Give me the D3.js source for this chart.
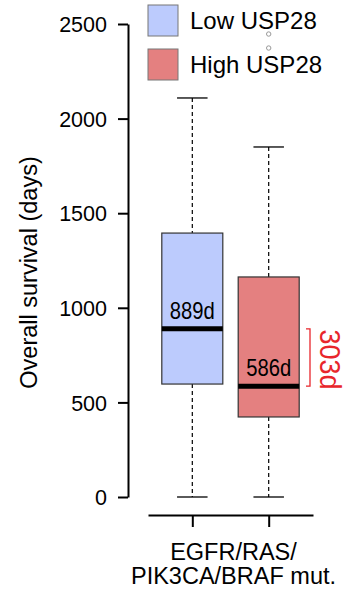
<!DOCTYPE html>
<html>
<head>
<meta charset="utf-8">
<script src="https://cdn.jsdelivr.net/npm/d3@7"></script>
<style>
  body { margin: 0; background: #fff; }
  text { font-family: "Liberation Sans", Arial, Helvetica, sans-serif; fill: #000; }
</style>
</head>
<body>
<svg id="chart" width="355" height="594"></svg>
<script>
// box stats (days)
const groups = ['Low USP28', 'High USP28'];
const whiskerLow = [0, 0];
const q1 = [597, 423];
const medians = [889, 586];
const q3 = [1395, 1163];
const whiskerHigh = [2109, 1850];
const outliers = [[], [2447, 2373]];
const yTicks = [0, 500, 1000, 1500, 2000, 2500];
const xLabel = ['EGFR/RAS/', 'PIK3CA/BRAF mut.'];
const fills = ['#bccbfd', '#e48080'];

const svg = d3.select('#chart');

const y = d3.scaleLinear().domain([0, 2500]).range([497, 24]);
const x = d3.scaleLinear().domain([0.42, 2.58]).range([148, 313]);
const boxW = 61;

// y axis
const yAxis = svg.append('g')
    .attr('transform', 'translate(128,0)')
    .call(d3.axisLeft(y).tickValues(yTicks).tickFormat(d3.format('d'))
        .tickSize(10).tickSizeOuter(0).tickPadding(11));
yAxis.selectAll('path, line').attr('stroke', '#000').attr('stroke-width', 2);
yAxis.selectAll('text').attr('font-size', 21.5).attr('dy', '0.36em');
yAxis.attr('font-family', null);

svg.append('text')
    .attr('transform', `translate(37,${y(1250) + 12})rotate(-90)`)
    .attr('text-anchor', 'middle')
    .attr('font-size', 23.5)
    .text('Overall survival (days)');

// x axis
const xAxis = svg.append('g')
    .attr('transform', 'translate(0,515)')
    .call(d3.axisBottom(x).tickValues([1, 2]).tickSize(12).tickSizeOuter(0).tickFormat(''));
xAxis.selectAll('path, line').attr('stroke', '#000').attr('stroke-width', 2);

svg.append('g').selectAll('text')
    .data(xLabel)
    .join('text')
    .attr('x', x(1.5) + 3)
    .attr('y', (d, i) => 560 + i * 23.5)
    .attr('text-anchor', 'middle')
    .attr('font-size', 23.5)
    .text(d => d);

// boxes
const boxes = svg.append('g').selectAll('g')
    .data(groups)
    .join('g');

// whiskers (dashed)
boxes.append('line')
    .attr('x1', (d, i) => x(i + 1)).attr('x2', (d, i) => x(i + 1))
    .attr('y1', (d, i) => y(whiskerHigh[i])).attr('y2', (d, i) => y(q3[i]))
    .attr('stroke', '#000').attr('stroke-width', 1.2).attr('stroke-dasharray', '4,3');
boxes.append('line')
    .attr('x1', (d, i) => x(i + 1)).attr('x2', (d, i) => x(i + 1))
    .attr('y1', (d, i) => y(q1[i])).attr('y2', (d, i) => y(whiskerLow[i]))
    .attr('stroke', '#000').attr('stroke-width', 1.2).attr('stroke-dasharray', '4,3');

// caps
[whiskerHigh, whiskerLow].forEach(arr => {
    boxes.append('line')
        .attr('x1', (d, i) => x(i + 1) - boxW / 4).attr('x2', (d, i) => x(i + 1) + boxW / 4)
        .attr('y1', (d, i) => y(arr[i])).attr('y2', (d, i) => y(arr[i]))
        .attr('stroke', '#000').attr('stroke-width', 1.3);
});

boxes.append('rect')
    .attr('x', (d, i) => x(i + 1) - boxW / 2)
    .attr('width', boxW)
    .attr('y', (d, i) => y(q3[i]))
    .attr('height', (d, i) => y(q1[i]) - y(q3[i]))
    .attr('fill', (d, i) => fills[i])
    .attr('stroke', '#333').attr('stroke-width', 1.2);

boxes.append('line')
    .attr('x1', (d, i) => x(i + 1) - boxW / 2).attr('x2', (d, i) => x(i + 1) + boxW / 2)
    .attr('y1', (d, i) => y(medians[i])).attr('y2', (d, i) => y(medians[i]))
    .attr('stroke', '#000').attr('stroke-width', 5);

// median labels, a bit narrower like the original
boxes.append('text')
    .attr('transform', (d, i) => `translate(${x(i + 1)},${y(medians[i]) - 10})scale(0.88,1)`)
    .attr('text-anchor', 'middle')
    .attr('font-size', 23)
    .text((d, i) => medians[i] + 'd');

// outliers
boxes.each(function (d, i) {
    d3.select(this).selectAll('circle')
        .data(outliers[i])
        .join('circle')
        .attr('cx', x(i + 1))
        .attr('cy', v => y(v))
        .attr('r', 2.2)
        .attr('fill', 'none')
        .attr('stroke', '#999')
        .attr('stroke-width', 1);
});

// difference bracket
const diff = medians[0] - medians[1];
const bx = 310;
svg.append('path')
    .attr('d', `M${bx - 4},${y(medians[0])}H${bx}V${y(medians[1])}H${bx - 4}`)
    .attr('fill', 'none')
    .attr('stroke', '#e8262b')
    .attr('stroke-width', 1.3);
svg.append('text')
    .attr('transform', `translate(320,${(y(medians[0]) + y(medians[1])) / 2 + 2})rotate(90)scale(0.9,1)`)
    .attr('text-anchor', 'middle')
    .attr('font-size', 30)
    .style('fill', '#e8262b')
    .text(diff + 'd');

// legend
const legend = svg.append('g').selectAll('g')
    .data(groups)
    .join('g')
    .attr('transform', (d, i) => `translate(148,${5 + i * 44})`);
legend.append('rect')
    .attr('width', 30).attr('height', 31)
    .attr('fill', (d, i) => fills[i])
    .attr('stroke', '#777').attr('stroke-width', 1);
legend.append('text')
    .attr('x', 42).attr('y', 24)
    .attr('font-size', 24)
    .text(d => d);
</script>
</body>
</html>
